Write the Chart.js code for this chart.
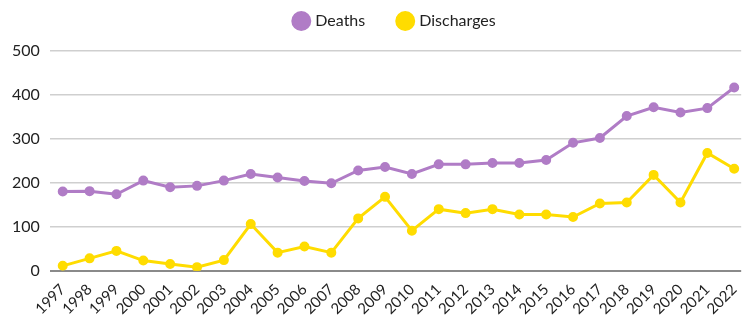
<!DOCTYPE html>
<html>
<head>
<meta charset="utf-8">
<script src="https://cdn.jsdelivr.net/npm/chart.js@4"></script>
<style>
  html, body { margin: 0; padding: 0; background: #fff; }
  #wrap { width: 749px; height: 320px; }
</style>
</head>
<body>
<div id="wrap"><canvas id="myChart"></canvas></div>
<script>
  // data
  const years = [1997, 1998, 1999, 2000, 2001, 2002, 2003, 2004, 2005, 2006, 2007, 2008, 2009,
    2010, 2011, 2012, 2013, 2014, 2015, 2016, 2017, 2018, 2019, 2020, 2021, 2022];
  const deaths = [180, 181, 174, 205, 190, 193, 205, 220, 212, 204, 199, 228, 236,
    220, 242, 242, 245, 245, 252, 291, 302, 352, 372, 360, 370, 417];
  const discharges = [11, 28, 45, 23, 15, 8, 24, 106, 41, 55, 41, 119, 168,
    91, 140, 131, 140, 128, 128, 122, 153, 155, 218, 155, 268, 232];
  const yTicks = [0, 100, 200, 300, 400, 500];

  const purple = "#b07cc6";
  const yellow = "#ffdc00";

  function pts(vals) {
    return years.map((y, i) => ({ x: y, y: vals[i] }));
  }

  // legend padding is big (for the gap between items), so tweak the box height
  const legendFix = {
    id: "legendFix",
    beforeInit(chart) {
      const fit = chart.legend.fit;
      chart.legend.fit = function () {
        fit.bind(chart.legend)();
        this.height += 12;
      };
    },
  };

  const config = {
    type: "line",
    data: {
      datasets: [
        {
          label: "Deaths",
          data: pts(deaths),
          borderColor: purple,
          backgroundColor: purple,
          borderWidth: 3,
          pointRadius: 3.5,
          pointHoverRadius: 3.5,
          tension: 0,
        },
        {
          label: "Discharges",
          data: pts(discharges),
          borderColor: yellow,
          backgroundColor: yellow,
          borderWidth: 3,
          pointRadius: 3.5,
          pointHoverRadius: 3.5,
          tension: 0,
        },
      ],
    },
    options: {
      responsive: true,
      maintainAspectRatio: false,
      animation: false,
      layout: { padding: { left: 2, right: 0, top: -21, bottom: 0 } },
      plugins: {
        legend: {
          position: "top",
          fullSize: false,
          labels: {
            usePointStyle: true,
            pointStyle: "circle",
            boxWidth: 12,
            boxHeight: 12,
            padding: 34,
            color: "#222",
            font: { family: "Lato", size: 16 },
          },
        },
        tooltip: { enabled: false },
      },
      scales: {
        x: {
          type: "linear",
          min: 1996.52,
          max: 2022.26,
          afterBuildTicks: (axis) => {
            axis.ticks = years.map((v) => ({ value: v }));
          },
          grid: { display: false },
          border: { display: false },
          ticks: {
            autoSkip: false,
            maxRotation: 45,
            minRotation: 45,
            padding: 2,
            color: "#222",
            font: { family: "Lato", size: 15 },
            callback: (v) => String(v),
          },
        },
        y: {
          min: 0,
          max: 500,
          afterBuildTicks: (axis) => {
            axis.ticks = yTicks.map((v) => ({ value: v }));
          },
          border: { display: false },
          grid: {
            drawTicks: false,
            lineWidth: (ctx) => (ctx.tick && ctx.tick.value === 0 ? 2 : 1.5),
            color: (ctx) => (ctx.tick && ctx.tick.value === 0 ? "#8a8a8a" : "#cfcfcf"),
          },
          ticks: {
            padding: 10,
            color: "#222",
            font: { family: "Lato", size: 16 },
          },
        },
      },
    },
    plugins: [legendFix],
  };

  var myChart = new Chart(document.getElementById("myChart"), config);
</script>
</body>
</html>
